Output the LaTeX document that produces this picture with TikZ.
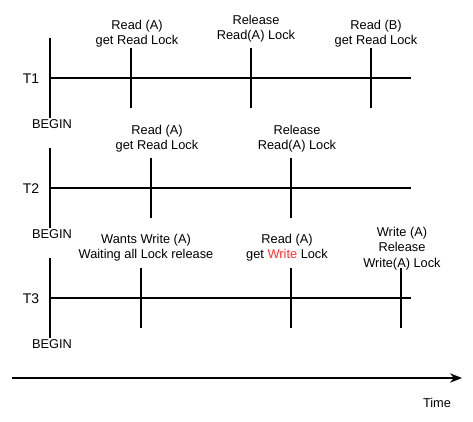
\documentclass[tikz,border=0pt]{standalone}
\usepackage{fontspec}
\setmainfont{Liberation Sans}
\usetikzlibrary{arrows.meta}

\begin{document}
\begin{tikzpicture}[x=0.75pt,y=-0.75pt,
  lbl/.style={font=\fontsize{9.6}{11.4}\selectfont, align=center, inner sep=0pt},
  tname/.style={font=\fontsize{10.5}{12}\selectfont, inner sep=0pt},
  tline/.style={black, line width=2.2pt},
  tick/.style={black, line width=1.1pt}]
  \useasboundingbox (0,0) rectangle (473,421);

  % the three transactions: name, y of line
  \foreach \t/\y in {1/78, 2/188, 3/298} {
    \coordinate (b\t) at (50,\y);
    \coordinate (e\t) at (411,\y);
    \draw[tline] (b\t) -- (e\t);
    \draw[tick] ([yshift=-30]b\t) -- ([yshift=30]b\t);
    \node[tname] (n\t) at (31,\y+1) {T\t};
    \node[lbl] (begin\t) at (52,\y+46) {BEGIN};
  }

  % T1
  \foreach \x in {131, 251, 371}
    \draw[tick] (\x,48) -- (\x,108);
  \node[lbl] (t1r) at (137,34) {Read (A)\\get Read Lock};
  \node[lbl] (t1u) at (256,28.5) {Release\\Read(A) Lock};
  \node[lbl] (t1b) at (376,34) {Read (B)\\get Read Lock};

  % T2
  \foreach \x in {151, 291}
    \draw[tick] (\x,158) -- (\x,218);
  \node[lbl] (t2r) at (157,139) {Read (A)\\get Read Lock};
  \node[lbl] (t2u) at (297,139) {Release\\Read(A) Lock};

  % T3
  \foreach \x in {141, 291, 401}
    \draw[tick] (\x,268) -- (\x,328);
  \node[lbl] (t3w) at (146,248) {Wants Write (A)\\Waiting all Lock release};
  \node[lbl] (t3r) at (287,248) {Read (A)\\get {\color[HTML]{FF3333}Write} Lock};
  \node[lbl] (t3u) at (402,248.5) {Write (A)\\Release\\Write(A) Lock};

  % time axis
  \coordinate (ts) at (12,378);
  \coordinate (te) at (462,378);
  \draw[black, line width=1.1pt, -{Stealth[length=9pt,width=7pt]}] (ts) -- (te);
  \node[lbl] (time) at (437,403) {Time};
\end{tikzpicture}
\end{document}
